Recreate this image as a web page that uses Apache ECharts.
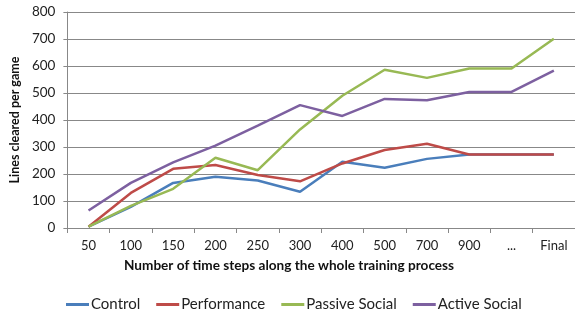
<!DOCTYPE html>
<html><head><meta charset="utf-8">
<script src="https://cdn.jsdelivr.net/npm/echarts@6/dist/echarts.min.js"></script>
<style>html,body{margin:0;padding:0;background:#fff}#c{width:575px;height:313px}</style>
</head><body><div id="c"></div>
<script>
const categories = ['50','100','150','200','250','300','400','500','700','900','...','Final'];
const control = [5,78,167,190,176,134,245,223,256,272,272,272];
const performance = [5,130,219,233,196,173,239,289,312,272,272,272];
const passiveSocial = [5,82,145,260,214,365,490,586,556,591,591,701];
const activeSocial = [65,167,243,305,379,455,415,478,473,504,504,583];
const seriesNames = ['Control','Performance','Passive Social','Active Social'];
const xTitle = 'Number of time steps along the whole training process';
const yTitle = 'Lines cleared per game';
const colors = ['#4A7EBB','#BE4B48','#98B954','#7D60A0'];
const font = 'Lato';
const chart = echarts.init(document.getElementById('c'), null, {renderer:'canvas'});
const mk = (name, data, i) => ({name, type:'line', data, symbol:'none', color: colors[i],
  lineStyle:{width:2.5, color: colors[i]}, animation:false});
chart.setOption({
  animation:false,
  title:{text:xTitle,left:124,top:259,padding:0,
    textStyle:{fontFamily:font,fontSize:13.6,fontWeight:'bold',color:'#111'}},
  grid:{left:62,right:0,top:12,bottom:85,containLabel:false},
  legend:{top:292,left:61,itemWidth:23,itemHeight:3,itemGap:16,icon:'rect',
    textStyle:{fontFamily:font,fontSize:15,color:'#222',padding:[0,0,0,-3]},data:seriesNames},
  xAxis:{type:'category',data:categories,boundaryGap:true,
    axisLine:{lineStyle:{color:'#888',width:1}},
    axisTick:{show:true,length:5,lineStyle:{color:'#888'}},
    axisLabel:{fontFamily:font,fontSize:13,color:'#222',margin:11}},
  yAxis:{type:'value',min:0,max:800,interval:100,
    axisLine:{show:true,lineStyle:{color:'#888'}},
    axisTick:{show:true,length:4,lineStyle:{color:'#888'}},
    splitLine:{lineStyle:{color:'#888',width:1}},
    axisLabel:{fontFamily:font,fontSize:13.5,color:'#222',margin:12},
    name:yTitle,nameLocation:'middle',nameGap:42,nameRotate:90,
    nameTextStyle:{fontFamily:font,fontSize:12.5,fontWeight:'bold',color:'#111'}},
  series:[mk(seriesNames[0],control,0),mk(seriesNames[1],performance,1),mk(seriesNames[2],passiveSocial,2),mk(seriesNames[3],activeSocial,3)]
});
</script></body></html>
